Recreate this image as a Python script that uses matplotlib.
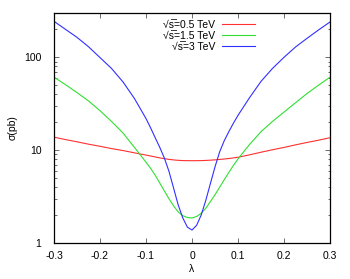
import matplotlib
matplotlib.use("Agg")
import matplotlib.pyplot as plt
from matplotlib.ticker import LogLocator, NullFormatter, FixedLocator

plt.rcParams['font.family'] = ['Liberation Sans', 'DejaVu Sans']

# lambda values
lam = [-0.3, -0.275, -0.25, -0.225, -0.2, -0.175, -0.15, -0.125,
       -0.1, -0.09, -0.08, -0.07, -0.06, -0.05, -0.04, -0.03, -0.02, -0.01,
       0.0, 0.01, 0.02, 0.03, 0.04, 0.05, 0.06, 0.07, 0.08, 0.09, 0.1,
       0.125, 0.15, 0.175, 0.2, 0.225, 0.25, 0.275, 0.3]

# sigma(pb) for each energy
sig_05 = [13.8, 13.0, 12.3, 11.6, 11.0, 10.4, 9.9, 9.35,
          8.85, 8.65, 8.45, 8.25, 8.1, 7.95, 7.85, 7.77, 7.72, 7.7,
          7.7, 7.7, 7.72, 7.75, 7.8, 7.86, 7.94, 8.03, 8.13, 8.25, 8.38,
          8.9, 9.5, 10.1, 10.7, 11.4, 12.1, 12.8, 13.6]
sig_15 = [61.1, 50.7, 41.7, 33.9, 26.6, 20.4, 15.3, 10.7,
          7.41, 6.38, 5.37, 4.42, 3.63, 2.99, 2.51, 2.16, 1.97, 1.88,
          1.86, 1.93, 2.09, 2.37, 2.79, 3.31, 3.98, 4.79, 5.75, 6.84, 8.04,
          11.5, 15.8, 20.4, 25.7, 32.4, 40.7, 50.1, 61.1]
sig_3 = [244, 200, 164, 130, 99.3, 75.9, 54.3, 35.9,
         21.9, 17.4, 13.6, 10.7, 8.2, 5.9, 3.9, 2.57, 1.86, 1.48,
         1.38, 1.55, 2.0, 2.88, 4.37, 6.6, 9.55, 12.6, 15.8, 19.5, 23.7,
         36.7, 55, 75.9, 100, 129, 160, 197, 240]

labels = ['√s\u0305=0.5 TeV', '√s\u0305=1.5 TeV', '√s\u0305=3 TeV']
colors = ['#ff3030', '#30e030', '#3030ff']
xticks = [-0.3, -0.2, -0.1, 0, 0.1, 0.2, 0.3]
xtick_labels = ['-0.3', '-0.2', '-0.1', '0', '0.1', '0.2', '0.3']

fig = plt.figure(figsize=(3.5, 2.79), dpi=100)
ax = fig.add_axes([54 / 350, 36 / 279, 276 / 350, 230 / 279])

for ys, lab, c in zip([sig_05, sig_15, sig_3], labels, colors):
    ax.plot(lam, ys, color=c, lw=0.8, label=lab)

ax.set_yscale('log')
ax.set_xlim(-0.3, 0.3)
ax.set_ylim(1, 300)
ax.xaxis.set_major_locator(FixedLocator(xticks))
ax.set_xticklabels(xtick_labels)
ax.yaxis.set_minor_locator(LogLocator(base=10, subs=range(2, 10)))
ax.yaxis.set_minor_formatter(NullFormatter())
ax.set_yticks([1, 10, 100])
ax.set_yticklabels(['1', '10', '100'])

ax.tick_params(which='both', direction='in', top=True, right=True,
               labelsize=7.5, width=0.6, color='#555555')
ax.tick_params(which='major', length=3.3)
ax.tick_params(which='minor', length=1.8)
ax.tick_params(axis='y', pad=9)
ax.tick_params(axis='x', pad=6)
for sp in ax.spines.values():
    sp.set_linewidth(0.9)

ax.set_xlabel('λ', fontsize=7.5)
ax.xaxis.set_label_coords(0.5, -0.092)
ax.set_ylabel('σ(pb)', fontsize=7.5)
ax.yaxis.set_label_coords(-0.13, 0.5)

ax.legend(loc='upper right', bbox_to_anchor=(255 / 350, 1 - 20 / 279),
          bbox_transform=fig.transFigure, frameon=False, fontsize=7.5,
          markerfirst=False, handlelength=3.2, handletextpad=0.6,
          borderpad=0, borderaxespad=0, labelspacing=0.1)

fig.savefig('out.png', dpi=100)
